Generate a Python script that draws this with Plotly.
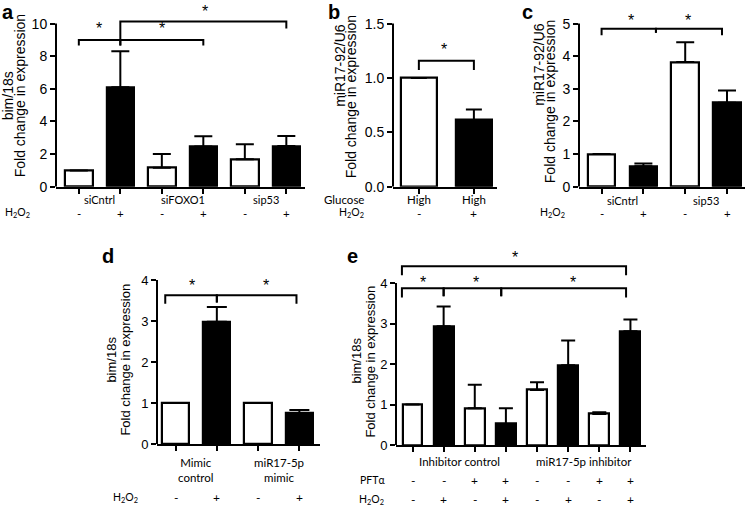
import plotly.graph_objects as go

W, H = 748, 515

# ---------------- data ----------------
a_values = [1.0, 6.1, 1.16, 2.47, 1.69, 2.49]
a_err = [0.0, 2.21, 0.84, 0.62, 0.92, 0.62]
a_fill = ["white", "black", "white", "black", "white", "black"]
a_groups = ["siCntrl", "siFOXO1", "sip53"]
a_h2o2 = ["-", "+", "-", "+", "-", "+"]
a_yticks = [0, 2, 4, 6, 8, 10]

b_values = [1.0, 0.614]
b_err = [0.0, 0.096]
b_fill = ["white", "black"]
b_glucose = ["High", "High"]
b_h2o2 = ["-", "+"]
b_yticks = [0, 0.5, 1.0, 1.5]
b_yticklabels = ["0.0", "0.5", "1.0", "1.5"]

c_values = [1.0, 0.63, 3.82, 2.57]
c_err = [0.0, 0.08, 0.61, 0.38]
c_fill = ["white", "black", "white", "black"]
c_groups = ["siCntrl", "sip53"]
c_h2o2 = ["-", "+", "-", "+"]
c_yticks = [0, 1, 2, 3, 4, 5]

d_values = [1.0, 2.98, 1.0, 0.76]
d_err = [0.0, 0.36, 0.0, 0.07]
d_fill = ["white", "black", "white", "black"]
d_groups = ["Mimic<br>control", "miR17-5p<br>mimic"]
d_h2o2 = ["-", "+", "-", "+"]
d_yticks = [0, 1, 2, 3, 4]

e_values = [1.0, 2.93, 0.91, 0.52, 1.36, 1.97, 0.77, 2.81]
e_err = [0.0, 0.49, 0.58, 0.39, 0.19, 0.61, 0.04, 0.29]
e_fill = ["white", "black", "white", "black", "white", "black", "white", "black"]
e_groups = ["Inhibitor control", "miR17-5p inhibitor"]
e_pft = ["-", "-", "+", "+", "-", "-", "+", "+"]
e_h2o2 = ["-", "+", "-", "+", "-", "+", "-", "+"]
e_yticks = [0, 1, 2, 3, 4]

# y-axis title lines
a_ylabel = ["bim/18s", "Fold change in expression"]
b_ylabel = ["miR17-92/U6", "Fold change in expression"]
c_ylabel = ["miR17-92/U6", "Fold change in expression"]
d_ylabel = ["bim/18s", "Fold change in expression"]
e_ylabel = ["bim/18s", "Fold change in expression"]

# significance brackets: (x_left, x_right, level, drop_left, drop_right, star_x, star_y)
a_brackets = [(0, 1, 9.0, 0.35, 0.35, 0.48, 9.9),
              (1, 3, 9.0, 0.35, 0.35, 2.0, 9.9),
              (1, 5, 10.13, 1.13, 0.43, 3.04, 10.9)]
b_brackets = [(0, 1, 1.159, 0.085, 0.085, 0.46, 1.29)]
c_brackets = [(0, 1.3, 4.84, 0.2, 0.12, 0.7, 5.19),
              (1.3, 2.88, 4.84, 0.12, 0.2, 2.07, 5.19)]
d_brackets = [(-0.25, 1, 3.63, 0.21, 0.18, 0.4, 3.93),
              (1, 2.93, 3.63, 0.18, 0.21, 2.19, 3.93)]
e_brackets = [(-0.34, 1, 3.87, 0.23, 0.2, 0.35, 4.09),
              (1, 2.85, 3.87, 0.2, 0.2, 2.03, 4.09),
              (2.85, 6.86, 3.87, 0.2, 0.23, 5.14, 4.09),
              (-0.34, 6.86, 4.41, 0.22, 0.22, 3.3, 4.7)]

# ---------------- layout geometry (pixels) ----------------
panels = [
    dict(n="", values=a_values, err=a_err, fill=a_fill, xpx=(56, 305), zero=189, tpx=23, ttop=10,
         rtop=11.3, xr=(-0.55, 5.45), yt=a_yticks, ytl=[str(v) for v in a_yticks], bw=0.66, cap=9,
         br=a_brackets, fs=14, yl=a_ylabel, ylpos=[(8, 97), (20, 97)]),
    dict(n="2", values=b_values, err=b_err, fill=b_fill, xpx=(393, 497), zero=189, tpx=23, ttop=1.5,
         rtop=1.6, xr=(-0.47, 1.42), yt=b_yticks, ytl=b_yticklabels, bw=0.65, cap=8,
         br=b_brackets, fs=14, yl=b_ylabel, ylpos=[(340, 66), (351, 98)]),
    dict(n="3", values=c_values, err=c_err, fill=c_fill, xpx=(579, 745), zero=189, tpx=23, ttop=5,
         rtop=5.4, xr=(-0.54, 3.43), yt=c_yticks, ytl=[str(v) for v in c_yticks], bw=0.66, cap=9,
         br=c_brackets, fs=14, yl=c_ylabel, ylpos=[(539, 65), (550, 103)]),
    dict(n="4", values=d_values, err=d_err, fill=d_fill, xpx=(157, 320), zero=451, tpx=284, ttop=4,
         rtop=4.15, xr=(-0.45, 3.5), yt=d_yticks, ytl=[str(v) for v in d_yticks], bw=0.66, cap=10,
         br=d_brackets, fs=13, yl=d_ylabel, ylpos=[(112, 365), (126, 365)]),
    dict(n="5", values=e_values, err=e_err, fill=e_fill, xpx=(396, 646), zero=452, tpx=287, ttop=4,
         rtop=4.85, xr=(-0.53, 7.5), yt=e_yticks, ytl=[str(v) for v in e_yticks], bw=0.64, cap=7,
         br=e_brackets, fs=13, yl=e_ylabel, ylpos=[(357, 366), (371, 367)]),
]

FONT = "Liberation Sans, Arial, sans-serif"
LFONT = "Lato, Open Sans, sans-serif"

fig = go.Figure()
layout = dict(width=W, height=H, margin=dict(l=0, r=0, t=0, b=0), showlegend=False,
              paper_bgcolor="white", plot_bgcolor="rgba(0,0,0,0)", bargap=0)
shapes = []
annotations = []


def px2x(p):
    return p / W


def py2y(p):
    return 1 - p / H


for p in panels:
    n = p["n"]
    xa, ya = "x" + n, "y" + n
    xs = list(range(len(p["values"])))
    fig.add_trace(go.Bar(
        x=xs, y=p["values"], xaxis=xa, yaxis=ya, width=p["bw"],
        marker=dict(color=p["fill"], line=dict(color="black", width=2.2)),
        error_y=dict(type="data", array=p["err"], arrayminus=[0] * len(xs), symmetric=False,
                     color="black", thickness=2, width=p["cap"]),
        hoverinfo="skip"))
    ppu = (p["zero"] - p["tpx"]) / p["ttop"]
    top_px = p["zero"] - p["rtop"] * ppu
    layout["xaxis" + n] = dict(domain=[px2x(p["xpx"][0]), px2x(p["xpx"][1])], range=list(p["xr"]),
                               anchor=ya, showline=True, linewidth=2, linecolor="black",
                               ticks="outside", ticklen=5, tickwidth=2, tickcolor="black",
                               tickvals=xs, showticklabels=False, showgrid=False, zeroline=False,
                               fixedrange=True)
    layout["yaxis" + n] = dict(domain=[py2y(p["zero"]), py2y(top_px)], range=[0, p["rtop"]],
                               anchor=xa, showline=False, ticks="outside", ticklen=5, tickwidth=2,
                               tickcolor="black", tickvals=p["yt"], ticktext=p["ytl"],
                               tickfont=dict(family=FONT, size=p["fs"], color="black"),
                               showgrid=False, zeroline=False, fixedrange=True)
    # y axis line up to top tick
    shapes.append(dict(type="line", xref=xa + " domain", yref=ya, x0=0, x1=0, y0=0, y1=p["ttop"],
                       line=dict(color="black", width=2)))
    # brackets
    for (x1, x2, lev, dl, dr, sx, sy) in p["br"]:
        shapes.append(dict(type="path", xref=xa, yref=ya,
                           path=f"M {x1},{lev - dl} L {x1},{lev} L {x2},{lev} L {x2},{lev - dr}",
                           line=dict(color="black", width=2)))
        annotations.append(dict(x=sx, y=sy, xref=xa, yref=ya, text="*", showarrow=False,
                                font=dict(family=FONT, size=16, color="black"), yanchor="middle",
                                yshift=-3))
    # y-axis title lines
    for t, (xx, yy) in zip(p["yl"], p["ylpos"]):
        annotations.append(dict(x=px2x(xx), y=py2y(yy), xref="paper", yref="paper", text=t,
                                showarrow=False, textangle=-90, xanchor="center", yanchor="middle",
                                font=dict(family=FONT, size=p["fs"], color="black")))


def row_text(texts, xa, py, size=12, fam=LFONT):
    for i, t in enumerate(texts):
        annotations.append(dict(x=i, y=py2y(py), xref=xa, yref="paper", text=t, showarrow=False,
                                font=dict(family=fam, size=size, color="black"), yanchor="middle"))


def label(t, pxx, py, size=11, xanchor="center", fam=LFONT):
    annotations.append(dict(x=px2x(pxx), y=py2y(py), xref="paper", yref="paper", text=t,
                            showarrow=False, xanchor=xanchor, yanchor="middle",
                            font=dict(family=fam, size=size, color="black")))


def group_text(texts, xa, centers, py, size=11.5):
    for c, t in zip(centers, texts):
        annotations.append(dict(x=c, y=py2y(py), xref=xa, yref="paper", text=t, showarrow=False,
                                font=dict(family=LFONT, size=size, color="black"), yanchor="middle"))


H2O2 = "H<sub>2</sub>O<sub>2</sub>"

# panel a
group_text(a_groups, "x", [0.5, 2.5, 4.5], 202, 11)
row_text(a_h2o2, "x", 216, 11.5)
label(H2O2, 17, 216, 10.5)
# panel b
row_text(b_glucose, "x2", 202, 11.5)
row_text(b_h2o2, "x2", 216)
label("Glucose", 366, 202, 11.5, "right")
label(H2O2, 366, 216, 10.5, "right")
# panel c
group_text(c_groups, "x3", [0.5, 2.5], 203, 11)
row_text(c_h2o2, "x3", 216, 11.5)
label(H2O2, 552, 216, 10.5)
# panel d
group_text(d_groups, "x4", [0.5, 2.5], 477)
row_text(d_h2o2, "x4", 505)
label(H2O2, 125, 506, 10.5)
# panel e
group_text(e_groups, "x5", [1.5, 5.5], 469)
row_text(e_pft, "x5", 488)
row_text(e_h2o2, "x5", 507)
label("PFTα", 372, 488, 10.5)
label(H2O2, 371, 508, 10.5)

# panel letters
for t, xx, yy in [("a", 8, 11), ("b", 334, 11), ("c", 527, 11), ("d", 108, 260), ("e", 352, 260)]:
    annotations.append(dict(x=px2x(xx), y=py2y(yy), xref="paper", yref="paper", text="<b>" + t + "</b>",
                            showarrow=False, xanchor="center", yanchor="middle",
                            font=dict(family=FONT, size=20, color="black")))

layout["shapes"] = shapes
layout["annotations"] = annotations
fig.update_layout(**layout)
fig.write_html("out.html", config={"displayModeBar": False},
               post_script="document.body.style.margin='0';")
